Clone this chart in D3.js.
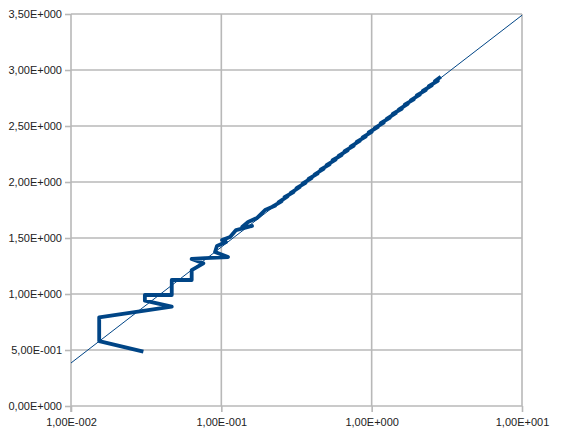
<!DOCTYPE html>
<html>
<head>
<meta charset="utf-8">
<script src="https://cdn.jsdelivr.net/npm/d3@7/dist/d3.min.js"></script>
<style>
  html, body { margin: 0; padding: 0; background: #fff; }
  svg { display: block; }
</style>
</head>
<body>
<svg id="chart" width="566" height="436"></svg>
<script>
// ---- data ----
const xValues = [
  0.0303, 0.0154, 0.0154, 0.0468, 0.0310, 0.0310, 0.0468, 0.0468, 0.0635, 0.0635,
  0.0759, 0.0635, 0.0780, 0.1109, 0.0908, 0.0935, 0.1074, 0.1011, 0.1143, 0.1253,
  0.1600, 0.1375, 0.1506, 0.1730, 0.1954,
  0.2291, 0.2188, 0.2512, 0.2399, 0.2754, 0.2630, 0.3020, 0.2884, 0.3311, 0.3162,
  0.3631, 0.3467, 0.3981, 0.3802, 0.4365, 0.4169, 0.4786, 0.4571, 0.5248, 0.5012,
  0.5754, 0.5495, 0.6310, 0.6026, 0.6918, 0.6607, 0.7586, 0.7244, 0.8318, 0.7943,
  0.9120, 0.8710, 1.0000, 0.9550, 1.0965, 1.0471, 1.2023, 1.1482, 1.3183, 1.2589,
  1.4454, 1.3804, 1.5849, 1.5136, 1.7378, 1.6596, 1.9055, 1.8197, 2.0893, 1.9953,
  2.2909, 2.1878, 2.5119, 2.3988, 2.7542, 2.6303, 2.8840
];
const yValues = [
  0.485, 0.580, 0.792, 0.887, 0.940, 0.991, 0.991, 1.125, 1.125, 1.214,
  1.274, 1.313, 1.321, 1.330, 1.375, 1.429, 1.464, 1.482, 1.509, 1.571,
  1.607, 1.598, 1.643, 1.679, 1.750,
  1.791, 1.780, 1.827, 1.818, 1.872, 1.864, 1.910, 1.901, 1.953, 1.945,
  1.993, 1.985, 2.035, 2.028, 2.075, 2.067, 2.117, 2.111, 2.158, 2.150,
  2.200, 2.194, 2.240, 2.233, 2.283, 2.276, 2.323, 2.316, 2.366, 2.359,
  2.406, 2.399, 2.448, 2.442, 2.489, 2.481, 2.531, 2.525, 2.572, 2.564,
  2.614, 2.608, 2.654, 2.647, 2.697, 2.690, 2.737, 2.730, 2.780, 2.773,
  2.820, 2.813, 2.862, 2.856, 2.903, 2.899, 2.940
];
// logarithmic trend line: y = trendIntercept + trendSlope * log10(x)
const trendIntercept = 2.454;
const trendSlope = 1.035;

const xTicks = [0.01, 0.1, 1, 10];
const xTickLabels = ["1,00E-002", "1,00E-001", "1,00E+000", "1,00E+001"];
const yTicks = [0, 0.5, 1, 1.5, 2, 2.5, 3, 3.5];
const yTickLabels = ["0,00E+000", "5,00E-001", "1,00E+000", "1,50E+000",
                     "2,00E+000", "2,50E+000", "3,00E+000", "3,50E+000"];

// ---- layout ----
const svg = d3.select("#chart");
const margin = { left: 71, right: 44, top: 14, bottom: 30 };
const W = 566, H = 436;
const x = d3.scaleLog().domain([0.01, 10]).range([margin.left, W - margin.right]);
const y = d3.scaleLinear().domain([0, 3.5]).range([H - margin.bottom, margin.top]);

const gridColor = "#b8b8b8";
const lineColor = "#004586";
const font = "'Liberation Sans', Arial, sans-serif";

// gridlines
svg.append("g").selectAll("line.hg").data(yTicks.filter(d => d > 0)).join("line")
  .attr("x1", x(0.01)).attr("x2", x(10))
  .attr("y1", d => y(d)).attr("y2", d => y(d))
  .attr("stroke", gridColor).attr("stroke-width", 1.6);
svg.append("g").selectAll("line.vg").data(xTicks.filter(d => d > 0.01)).join("line")
  .attr("x1", d => x(d)).attr("x2", d => x(d))
  .attr("y1", y(0)).attr("y2", y(3.5))
  .attr("stroke", gridColor).attr("stroke-width", 1.6);

// axes
const yAxis = svg.append("g").attr("transform", `translate(${x(0.01)},0)`)
  .call(d3.axisLeft(y).tickValues(yTicks).tickSize(6).tickPadding(3)
    .tickFormat((d, i) => yTickLabels[i]));
const xAxis = svg.append("g").attr("transform", `translate(0,${y(0)})`)
  .call(d3.axisBottom(x).tickValues(xTicks).tickSize(6).tickPadding(6)
    .tickFormat((d, i) => xTickLabels[i]));
[yAxis, xAxis].forEach(g => {
  g.select(".domain").attr("stroke", gridColor).attr("stroke-width", 1.6);
  g.selectAll(".tick line").attr("stroke", gridColor).attr("stroke-width", 1.6);
  g.selectAll(".tick text").attr("fill", "#222").style("font-family", font).style("font-size", "11px");
});
yAxis.select(".domain").attr("d", `M0,${y(0) + 6}V${y(3.5)}`);
xAxis.select(".domain").attr("d", `M${x(0.01)},0H${x(10)}`);

// trend line
const trendX = [0.01, 10];
svg.append("path")
  .datum(trendX)
  .attr("fill", "none").attr("stroke", lineColor).attr("stroke-width", 1)
  .attr("d", d3.line().x(d => x(d)).y(d => y(trendIntercept + trendSlope * Math.log10(d))));

// data line
const data = xValues.map((v, i) => ({ x: v, y: yValues[i] }));
svg.append("path")
  .datum(data)
  .attr("fill", "none").attr("stroke", lineColor).attr("stroke-width", 3.8)
  .attr("stroke-linejoin", "round").attr("stroke-linecap", "butt")
  .attr("d", d3.line().x(d => x(d.x)).y(d => y(d.y)));
</script>
</body>
</html>
